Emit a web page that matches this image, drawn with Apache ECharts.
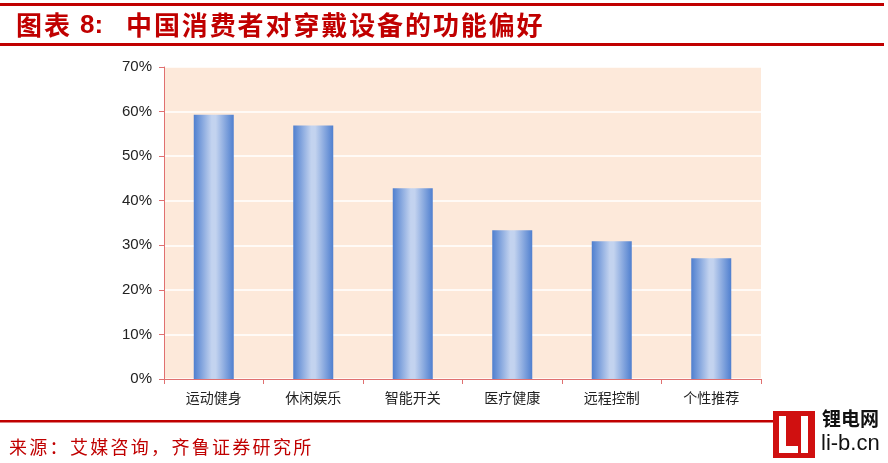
<!DOCTYPE html>
<html><head><meta charset="utf-8">
<script src="https://cdn.jsdelivr.net/npm/echarts@6/dist/echarts.min.js"></script>
<style>html,body{margin:0;padding:0;background:#fff}#c{width:888px;height:463px}</style>
</head><body><div id="c"></div>
<script>
const categories = ['运动健身','休闲娱乐','智能开关','医疗健康','远程控制','个性推荐'];
const values = [59.3, 56.9, 42.8, 33.4, 30.9, 27.1];
const yTicks = [0,10,20,30,40,50,60,70];
const titlePrefix = '图表';
const titleText = '中国消费者对穿戴设备的功能偏好';
const sourceText = '来源：艾媒咨询，齐鲁证券研究所';

const chart = echarts.init(document.getElementById('c'));
const red = '#C00000';
function spaced(str, x0, y, step, font, fill){
  return Array.from(str).map((ch,i)=>({type:'text',x:x0+i*step,y:y,style:{text:ch,fill:fill,font:font,textVerticalAlign:'middle'}}));
}
chart.setOption({
  animation:false,
  grid:{left:164,right:127,top:67,bottom:84,show:true,backgroundColor:'#FDE9DA',borderWidth:0},
  xAxis:{type:'category',data:categories,
    axisLine:{lineStyle:{color:'#E07070',width:1}},
    axisTick:{show:true,lineStyle:{color:'#E07070'},length:5},
    axisLabel:{color:'#222',fontSize:14,margin:12,fontFamily:'Noto Sans CJK SC'}},
  yAxis:{type:'value',min:0,max:70,interval:10,
    axisLine:{show:true,lineStyle:{color:'#E07070'}},
    axisTick:{show:true,lineStyle:{color:'#E07070'},length:5,inside:false},
    splitLine:{lineStyle:{color:'#ffffff',width:1.5}},
    axisLabel:{color:'#222',fontSize:15,margin:12,fontFamily:'Liberation Sans',
      formatter:v=>yTicks.includes(v)?v+'%':''}},
  series:[{type:'bar',data:values,barWidth:40,
    itemStyle:{color:new echarts.graphic.LinearGradient(0,0,1,0,[
      {offset:0,color:'#4F7FCF'},{offset:0.45,color:'#C3D3EF'},{offset:0.55,color:'#C3D3EF'},{offset:1,color:'#4F7FCF'}])}}],
  graphic:[
    {type:'rect',shape:{x:0,y:3,width:884,height:3},style:{fill:red}},
    {type:'rect',shape:{x:0,y:43,width:884,height:3},style:{fill:red}},
    ...spaced(titlePrefix,16,25,28,'bold 26px "Noto Sans CJK SC"',red),
    {type:'text',x:80,y:26,style:{text:'8:',fill:red,font:'bold 26px "Liberation Sans"',textVerticalAlign:'middle'}},
    ...spaced(titleText,126,25,27.9,'bold 26px "Noto Sans CJK SC"',red),
    {type:'rect',shape:{x:0,y:420,width:776,height:2.5},style:{fill:red}},
    ...spaced(sourceText,9,447,20.3,'18px "Noto Sans CJK SC"',red),
    {type:'rect',shape:{x:773,y:411,width:42,height:47},style:{fill:'#D01010'}},
    {type:'rect',shape:{x:779,y:416,width:7,height:37},style:{fill:'#fff'}},
    {type:'rect',shape:{x:779,y:446,width:19,height:7},style:{fill:'#fff'}},
    {type:'rect',shape:{x:801,y:416,width:7,height:37},style:{fill:'#fff'}},
    {type:'text',left:822,top:409,style:{text:'锂电网',fill:'#111',font:'bold 19px "Noto Sans CJK SC"'}},
    {type:'text',left:821,top:433,style:{text:'li-b.cn',fill:'#111',font:'22px "Liberation Sans Narrow","Liberation Sans"'}}
  ]
});
</script></body></html>
